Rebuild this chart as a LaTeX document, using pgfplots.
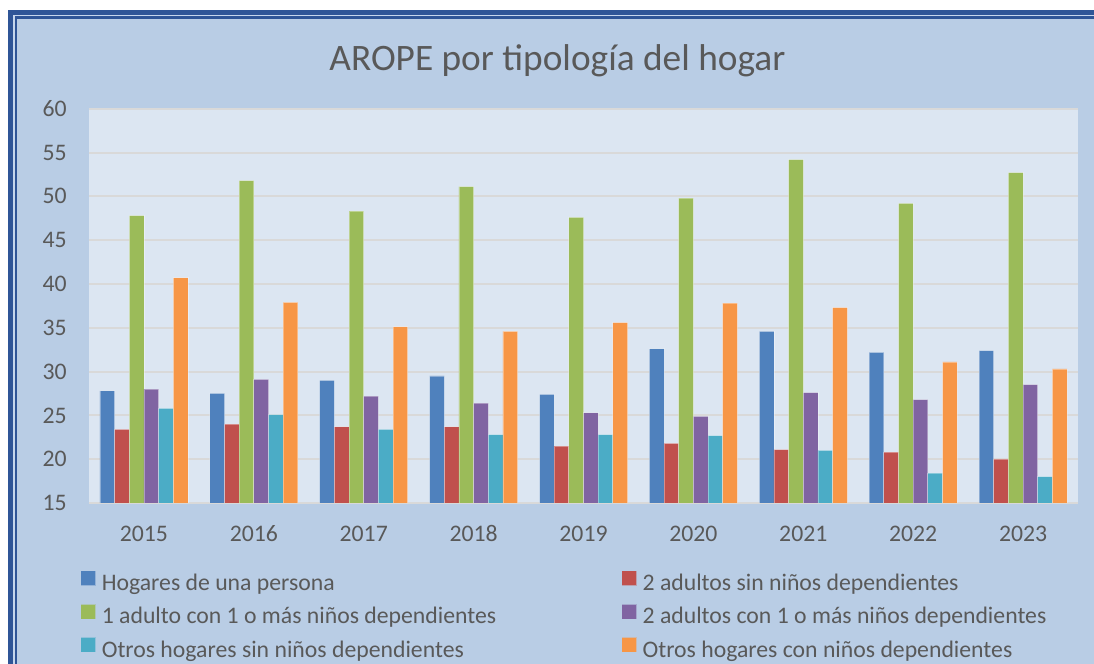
\documentclass[border=0pt]{standalone}
\usepackage{pgfplots}
\pgfplotsset{compat=1.18}
\usepackage{fontspec}
\setmainfont{Carlito}
\definecolor{bgblue}{HTML}{B9CDE5}
\definecolor{plotbg}{HTML}{DCE6F2}
\definecolor{framec}{HTML}{2F5597}
\definecolor{framelight}{HTML}{C6D6EC}
\definecolor{gridc}{HTML}{D9D9D9}
\definecolor{txt}{HTML}{595959}
\definecolor{c1}{HTML}{4F81BD}
\definecolor{c2}{HTML}{C0504D}
\definecolor{c3}{HTML}{9BBB59}
\definecolor{c4}{HTML}{8064A2}
\definecolor{c5}{HTML}{4BACC6}
\definecolor{c6}{HTML}{F79646}
\pgfplotsset{sq/.style={fill=#1, draw=white, draw opacity=0.35, line width=0.6pt,
  legend image code/.code={\fill[#1] (0pt,0pt) rectangle (10.5pt,10.5pt);}}}
\newcommand{\colone}[1]{\makebox[390pt][l]{#1}}
\begin{document}
\begin{tikzpicture}[x=1pt,y=1pt]
\useasboundingbox (0,0) rectangle (820.5,497.25);
\fill[white] (0,0) rectangle (820.5,497.25);
\fill[framec] (6,-10) rectangle (830,489.75);
\fill[framelight] (9.75,-10) rectangle (830,486);
\fill[framec] (10.9,-10) rectangle (830,484.9);
\fill[bgblue] (12.75,-10) rectangle (830,483);
\node[anchor=base, text=txt, font=\fontsize{28}{33}\selectfont, inner sep=0pt] at (418.1,444.0) {AROPE por tipología del hogar};
\begin{axis}[
  at={(66.75pt,120pt)}, anchor=south west,
  width=741.75pt, height=295.7pt, scale only axis,
  axis background/.style={fill=plotbg},
  axis line style={draw=none},
  ymin=15, ymax=60, ytick={15,20,...,60},
  xmin=-0.5, xmax=8.5, xtick={0,...,8},
  xticklabels={2015,2016,2017,2018,2019,2020,2021,2022,2023},
  major tick length=0pt,
  ymajorgrids, major grid style={gridc, line width=1.5pt},
  ybar=0pt, bar width=11pt,
  /pgf/number format/assume math mode=true,
  tick label style={text=txt, font=\fontsize{17.8}{21}\selectfont},
  yticklabel style={inner sep=0pt, anchor=east, xshift=-16.5pt},
  xticklabel style={inner sep=0pt, anchor=base, yshift=-29.25pt},
  legend columns=2, legend cell align=left,
  legend style={at={(axis description cs:-0.00809,-0.1725)}, anchor=north west,
    draw=none, fill=none, inner sep=0pt, outer sep=0pt, row sep=6.1pt,
    font=\fontsize{17.8}{21}\selectfont, text=txt,
    nodes={inner sep=0pt, text height=12pt, text depth=4pt},
    /tikz/every odd column/.append style={column sep=4.5pt}},
]
\addplot[sq=c1] coordinates {(0,27.8) (1,27.5) (2,29.0) (3,29.5) (4,27.4) (5,32.6) (6,34.6) (7,32.2) (8,32.4)};
\addlegendentry{\colone{Hogares de una persona}}
\addplot[sq=c2] coordinates {(0,23.4) (1,24.0) (2,23.7) (3,23.7) (4,21.5) (5,21.8) (6,21.1) (7,20.8) (8,20.0)};
\addlegendentry{2 adultos sin niños dependientes}
\addplot[sq=c3] coordinates {(0,47.8) (1,51.8) (2,48.3) (3,51.1) (4,47.6) (5,49.8) (6,54.2) (7,49.2) (8,52.7)};
\addlegendentry{\colone{1 adulto con 1 o más niños dependientes}}
\addplot[sq=c4] coordinates {(0,28.0) (1,29.1) (2,27.2) (3,26.4) (4,25.3) (5,24.9) (6,27.6) (7,26.8) (8,28.5)};
\addlegendentry{2 adultos con 1 o más niños dependientes}
\addplot[sq=c5] coordinates {(0,25.8) (1,25.1) (2,23.4) (3,22.8) (4,22.8) (5,22.7) (6,21.0) (7,18.4) (8,18.0)};
\addlegendentry{\colone{Otros hogares sin niños dependientes}}
\addplot[sq=c6] coordinates {(0,40.7) (1,37.9) (2,35.1) (3,34.6) (4,35.6) (5,37.8) (6,37.3) (7,31.1) (8,30.3)};
\addlegendentry{Otros hogares con niños dependientes}
\end{axis}
\end{tikzpicture}
\end{document}
